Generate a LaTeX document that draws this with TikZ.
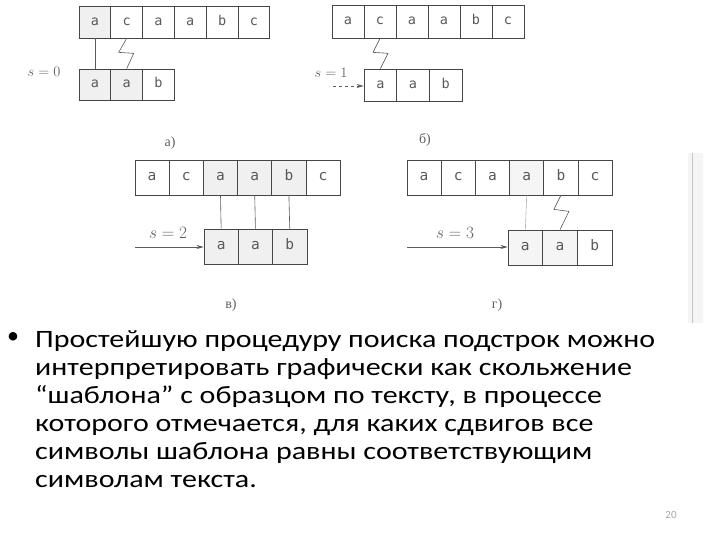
\documentclass[tikz,border=0pt]{standalone}
\usepackage{fontspec}
\setmainfont{Carlito}
\newfontfamily\bodyfont[FakeStretch=1.2]{Carlito}
\newfontfamily\serifcyr{Liberation Serif}
\newfontfamily\cellfont{DejaVu Sans Mono}
\usetikzlibrary{arrows.meta,backgrounds}
\tikzset{
  cellbox/.style={draw=gray!55!black, line width=0.7pt, inner sep=0pt, text height=1.5ex, text depth=0.2ex, font=\cellfont\fontsize{14.5}{14.5}\selectfont, text=gray!70!black},
  smallcell/.style={font=\cellfont\fontsize{13.5}{13.5}\selectfont},
  link/.style={draw=gray!70!black, line width=0.6pt},
  shiftarrow/.style={draw=gray!70!black, line width=0.7pt, -{Stealth[length=7pt,width=4pt]}},
  slabel/.style={font=\serifcyr\fontsize{17}{17}\selectfont, text=gray!75!black},
  sublabel/.style={font=\serifcyr\fontsize{14}{14}\selectfont, text=gray!75!black},
  bodytext/.style={font=\bodyfont\fontsize{25}{28}\selectfont, anchor=base west, inner sep=0pt},
}
% #1 name prefix, #2 x0, #3 ytop, #4 cell width, #5 height, #6 letters, #7 extra style
\newcommand{\cellrow}[7]{%
  \foreach \ch [count=\i] in {#6} {
    \node[cellbox, #7, minimum width=#4pt, minimum height=#5pt] (#1-\i)
      at ({#2+(\i-0.5)*#4}, {#3+#5/2}) {\ch};
  }%
}
\begin{document}
\begin{tikzpicture}[x=1pt, y=-1pt]
\useasboundingbox (0,0) rectangle (720,540);
% ---------- panel a
\cellrow{aT}{79}{6}{31.8}{32}{a,c,a,a,b,c}{smallcell}
\cellrow{aP}{79}{69}{31.8}{31}{a,a,b}{smallcell}
\draw[link] (aT-1.south) -- (aP-1.north);
\draw[link] (aT-2.south) -- ++(-8,14) -- ++(15,1) -- (aP-2.north);
\node[slabel, font=\serifcyr\fontsize{15}{15}\selectfont] (sa) at (44,72) {$s=0$};
\node[sublabel] (la) at (170,143) {а)};
% ---------- panel b
\cellrow{bT}{332}{5}{32}{33}{a,c,a,a,b,c}{smallcell}
\cellrow{bP}{364}{69}{32.7}{32}{a,a,b}{smallcell}
\draw[link] (bT-2.south) -- ++(-7,14) -- ++(15,1) -- (bP-1.north);
\node[slabel, font=\serifcyr\fontsize{15}{15}\selectfont] (sb) at (331,73) {$s=1$};
\coordinate (bs) at (333,86);
\draw[shiftarrow, dashed] (bs) -- (bP-1.west |- bs);
\node[sublabel] (lb) at (425,140) {б)};
% ---------- panel c
\cellrow{cT}{135}{160}{34.2}{35}{a,c,a,a,b,c}{}
\cellrow{cP}{204}{229}{34.3}{35}{a,a,b}{}
\draw[link] (cT-3.south) -- (cP-1.north);
\draw[link] (cT-4.south) -- (cP-2.north);
\draw[link] (cT-5.south) -- (cP-3.north);
\node[slabel] (sc) at (168,233) {$s=2$};
\coordinate (cs) at (135,247);
\draw[shiftarrow] (cs) -- (cP-1.west |- cs);
\node[sublabel] (lc) at (231,305) {в)};
% ---------- panel d
\cellrow{dT}{407}{160}{34.2}{35}{a,c,a,a,b,c}{}
\cellrow{dP}{508}{230}{34.7}{35}{a,a,b}{}
\draw[link, gray!60] (dT-4.south) -- (dP-1.north);
\draw[link] (dT-5.south) -- ++(-7,14) -- ++(15,2) -- (dP-2.north);
\node[slabel] (sd) at (455,233) {$s=3$};
\coordinate (ds) at (407,247);
\draw[shiftarrow] (ds) -- (dP-1.west |- ds);
\node[sublabel] (ld) at (497,305) {г)};
% ---------- light shading of matched cells
\begin{scope}[on background layer]
  \fill[gray!12] (aT-1.north west) rectangle (aT-1.south east);
  \fill[gray!12] (aP-1.north west) rectangle (aP-2.south east);
  \fill[gray!12] (cT-3.north west) rectangle (cT-5.south east);
  \fill[gray!12] (cP-1.north west) rectangle (cP-3.south east);
  \fill[gray!8] (dT-4.north west) rectangle (dT-4.south east);
  \fill[gray!8] (dP-1.north west) rectangle (dP-2.south east);
\end{scope}
% ---------- side bar
\fill[gray!8] (688,153) rectangle (703,323);
\draw[gray!45, line width=1pt] (692,153) -- (692,323);
% ---------- text
\node[font=\fontsize{24}{28}\selectfont, inner sep=0pt] (bul) at (13,338) {•};
\node[bodytext] (l1) at (35,347) {Простейшую процедуру поиска подстрок можно};
\node[bodytext] (l2) at (35,375) {интерпретировать графически как скольжение};
\node[bodytext] (l3) at (35,403) {“шаблона” с образцом по тексту, в процессе};
\node[bodytext] (l4) at (35,431) {которого отмечается, для каких сдвигов все};
\node[bodytext] (l5) at (35,459) {символы шаблона равны соответствующим};
\node[bodytext] (l6) at (35,487) {символам текста.};
\node[font=\fontsize{11}{11}\selectfont, text=gray!70] (pg) at (671,515) {20};
\end{tikzpicture}
\end{document}
